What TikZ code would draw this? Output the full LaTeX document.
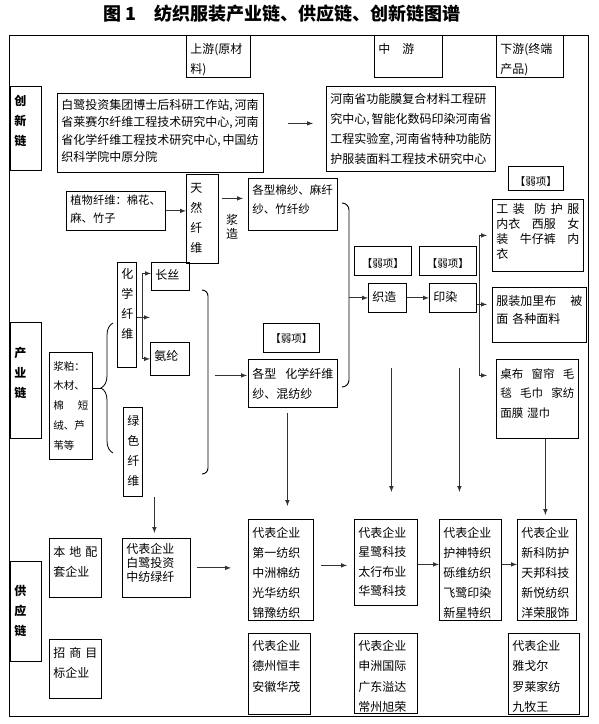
\documentclass[tikz,border=0pt]{standalone}
\usepackage{fontspec}
\setmainfont{Noto Sans CJK SC}
\usetikzlibrary{positioning,calc,decorations.pathreplacing}
\newcommand{\cjksize}[2]{\fontsize{#1}{#2}\selectfont}
\newcommand{\jfill}{\hskip 0pt plus 1fill\relax}

\begin{document}
\begin{tikzpicture}[x=1pt, y=-1pt,
    cell/.style={draw, line width=0.8pt, anchor=north west, align=left, inner xsep=4pt, inner ysep=3pt, font=\cjksize{12}{20}},
    dims/.code n args={3}{%
      \pgfmathsetmacro\cellw{#1-8}%
      \pgfmathsetmacro\cellt{#3+1.6}%
      \pgfmathsetmacro\celld{#2-6-\cellt}%
      \edef\celldo{\noexpand\pgfkeysalso{text width=\cellw pt, text height=\cellt pt, text depth=\celld pt}}\celldo},
    chainlbl/.style={cell, font=\bfseries\cjksize{12}{20}},
    weak/.style={cell, align=center, font=\cjksize{10.5}{14}},
    arrow/.style={->, >=latex, line width=1pt, draw=black!80},
    bracket/.style={line width=0.9pt}]

\useasboundingbox (0,0) rectangle (598,724);

% Title and outer frame
\node[font=\bfseries\cjksize{18}{20}] (title) at (282,14) {图 1\hspace{1em}纺织服装产业链、供应链、创新链图谱};
\draw[line width=0.8pt] (9,35) rectangle (588,716);

% Stage headers along the top edge
\node[cell, dims={64}{42}{13}] (upstream) at (186,35) {上游(原材\\料)};
\node[cell, dims={68}{42}{13}] (midstream) at (374,35) {中\hspace{1em}游};
\node[cell, dims={67}{42}{13}] (downstream) at (496,35) {下游(终端\\产品)};

% Chain labels on the left
\node[chainlbl, dims={31}{84}{14}] (innolbl) at (10,86) {创\\新\\链};
\node[chainlbl, dims={31}{116}{30}] (indlbl) at (10,322) {产\\业\\链};
\node[chainlbl, dims={31}{100}{29}] (suplbl) at (10,561) {供\\应\\链};

% Innovation chain
\node[cell, dims={206}{79}{11}, font=\cjksize{12}{17.5}] (innoA) at (57,93) {白鹭投资集团博士后科研工作站,\,河南\\省莱赛尔纤维工程技术研究中心,\,河南\\省化学纤维工程技术研究中心,\,中国纺\\织科学院中原分院};
\node[cell, dims={169}{85}{12}] (innoB) at (326,86) {河南省功能膜复合材料工程研\\究中心,\,智能化数码印染河南省\\工程实验室,\,河南省特种功能防\\护服装面料工程技术研究中心};

% Industry chain: natural fibres
\node[cell, dims={99}{39}{8}, font=\cjksize{11.3}{18}] (plant) at (66,191) {植物纤维：棉花、\\麻、竹子};
\node[cell, dims={32}{89}{13}] (natural) at (186,174) {天\\然\\纤\\维};
\node[cell, dims={89}{52}{11}, font=\cjksize{11.5}{19}] (cotton) at (248,178) {各型棉纱、麻纤\\纱、竹纤纱};
\node[font=\cjksize{12}{14.5}, align=center] (slurry) at (232,227) {浆\\造};

% Industry chain: chemical and green fibres
\node[cell, dims={19}{105}{11}] (chem) at (117,262) {化\\学\\纤\\维};
\node[cell, dims={38}{28}{12}] (filament) at (151,262) {长丝};
\node[cell, dims={39}{33}{13}] (spandex) at (150,342) {氨纶};
\node[cell, dims={19}{89}{13}] (green) at (123,407) {绿\\色\\纤\\维};
\node[cell, dims={43}{107}{13}, font=\cjksize{10.5}{19.75}] (pulp) at (49,352) {浆粕：\\木材、\\棉\jfill 短\\绒、芦\\苇等};
\node[weak, dims={56}{29}{14}] (weakchem) at (263,323) {【弱项】};
\node[cell, dims={89}{48}{14}] (chemyarn) at (248,359) {各型\jfill 化学纤维\\纱、混纺纱};

% Weaving and dyeing
\node[weak, dims={57}{29}{16}] (weakweave) at (354,246) {【弱项】};
\node[weak, dims={57}{29}{16}] (weakdye) at (419,246) {【弱项】};
\node[cell, dims={38}{29}{13}] (weave) at (368,283) {织造};
\node[cell, dims={47}{29}{13}] (dye) at (429,283) {印染};

% End products
\node[weak, dims={55}{24}{14}] (weakend) at (508,166) {【弱项】};
\node[cell, dims={91}{72}{9}, font=\cjksize{12}{15.3}] (apparel) at (492,199) {工\jfill 装\jfill\jfill 防\jfill 护\jfill 服\\内衣\jfill 西服\jfill 女\\装\jfill 牛仔裤\jfill 内\\衣};
\node[cell, dims={94}{55}{13}, font=\cjksize{12}{18}] (garment) at (492,287) {服装加里布\jfill 被\\面\ 各种面料};
\node[cell, dims={82}{79}{14}, font=\cjksize{11.5}{19.5}] (home) at (496,359) {桌布\jfill 窗帘\jfill 毛\\毯\jfill 毛巾\jfill 家纺\\面膜\ 湿巾};

% Supply chain
\node[cell, dims={52}{59}{13}] (local) at (49,538) {本\jfill 地\jfill 配\\套企业};
\node[cell, dims={52}{59}{13}] (invest) at (49,639) {招\jfill 商\jfill 目\\标企业};
\node[cell, dims={68}{59}{10}, font=\cjksize{12}{14}] (bailu) at (122,538) {代表企业\\白鹭投资\\中纺绿纤};
\node[cell, dims={65}{101}{13}] (firstco) at (248,519) {代表企业\\第一纺织\\中洲棉纺\\光华纺织\\锦豫纺织};
\node[cell, dims={62}{81}{12}, font=\cjksize{12}{20.5}] (dezhou) at (248,633) {代表企业\\德州恒丰\\安徽华茂};
\node[cell, dims={63}{86}{13}, font=\cjksize{12}{19.5}] (star) at (354,519) {代表企业\\星鹭科技\\太行布业\\华鹭科技};
\node[cell, dims={63}{80}{12}, font=\cjksize{12}{20.5}] (shenzhou) at (354,633) {代表企业\\申洲国际\\广东溢达\\常州旭荣};
\node[cell, dims={62}{101}{13}] (hushen) at (439,519) {代表企业\\护神特织\\砾维纺织\\飞鹭印染\\新星特织};
\node[cell, dims={59}{101}{13}] (xinke) at (517,519) {代表企业\\新科防护\\天邦科技\\新悦纺织\\洋荣服饰};
\node[cell, dims={71}{81}{12}, font=\cjksize{12}{20.5}] (yagor) at (508,633) {代表企业\\雅戈尔\\罗莱家纺\\九牧王};

% Innovation link
\draw[arrow, shorten <=24pt, shorten >=13pt] ([yshift=9.5pt]innoA.east) -- ([yshift=5.5pt]innoB.west);

% Natural fibre route
\draw[arrow] (plant.east) -- (plant.east -| natural.west);
\draw[arrow, shorten <=3pt, shorten >=5pt] ([yshift=20.5pt]natural.east) -- ([yshift=6pt]cotton.west);

% Chemical fibre branches
\draw[arrow] ([xshift=6pt]chem.east) |- ([yshift=3pt]filament.west);
\draw[arrow] ([xshift=6pt]chem.east) |- (spandex.west);
\draw[arrow] ([yshift=-2.5pt]chem.east) -- ([xshift=13pt, yshift=-2.5pt]chem.east);

% Pulp brace
\draw[decorate, decoration={brace, amplitude=12pt}, line width=0.8pt] (113,453) -- (113,323);
\draw[line width=1.2pt] ([yshift=17.5pt]pulp.east) -- ++(9,0);

% Brackets gathering fibres and yarns
\draw[bracket, rounded corners=6pt] (202,290) -| (208,474) -- (202,474);
\draw[arrow, shorten >=1pt] ([xshift=-33pt, yshift=8pt]chemyarn.west) -- ([yshift=8pt]chemyarn.west);
\draw[bracket, rounded corners=7pt] (342,203) -| (349,387) -- (342,387);
\draw[arrow] ([xshift=-19pt]weave.west) -- (weave.west);

% Weaving, dyeing and end products
\draw[arrow] (weave.east) -- (dye.west);
\draw[arrow, shorten >=5pt] ([yshift=-6.5pt]dye.east) -- ([yshift=10.5pt]garment.west);
\draw[arrow, shorten >=5pt] ([xshift=3pt, yshift=-6.5pt]dye.east) |- (apparel.west);
\draw[arrow, shorten >=9pt] ([xshift=3pt, yshift=-6.5pt]dye.east) |- ([yshift=23.5pt]home.west);

% Down to representative enterprises
\draw[arrow, shorten >=5pt] ([xshift=21.5pt]green.south) -- ([xshift=-2pt]bailu.north);
\draw[arrow, shorten <=5pt, shorten >=13pt] ([xshift=-5.5pt]chemyarn.south) -- ([xshift=6.5pt]firstco.north);
\draw[arrow, shorten <=55pt, shorten >=27pt] ([xshift=4pt]weave.south) -- ([xshift=5.5pt]star.north);
\draw[arrow, shorten <=55pt, shorten >=27pt] ([xshift=6.5pt]dye.south) -- ([xshift=-11pt]hushen.north);
\draw[arrow, shorten >=4pt] ([xshift=8pt]home.south) -- ([xshift=-1.5pt]xinke.north);

% Enterprise chain
\draw[arrow, shorten <=6pt, shorten >=17pt] (bailu.east) -- (bailu.east -| firstco.west);
\draw[arrow, shorten <=7pt, shorten >=7pt] ([yshift=4.5pt]firstco.east) -- ([yshift=-3pt]star.west);
\draw[arrow] ([yshift=-2pt]star.east) -- ([yshift=5.5pt]hushen.west);
\draw[arrow] ([yshift=5.5pt]hushen.east) -- ([yshift=5.5pt]xinke.west);

\end{tikzpicture}
\end{document}
